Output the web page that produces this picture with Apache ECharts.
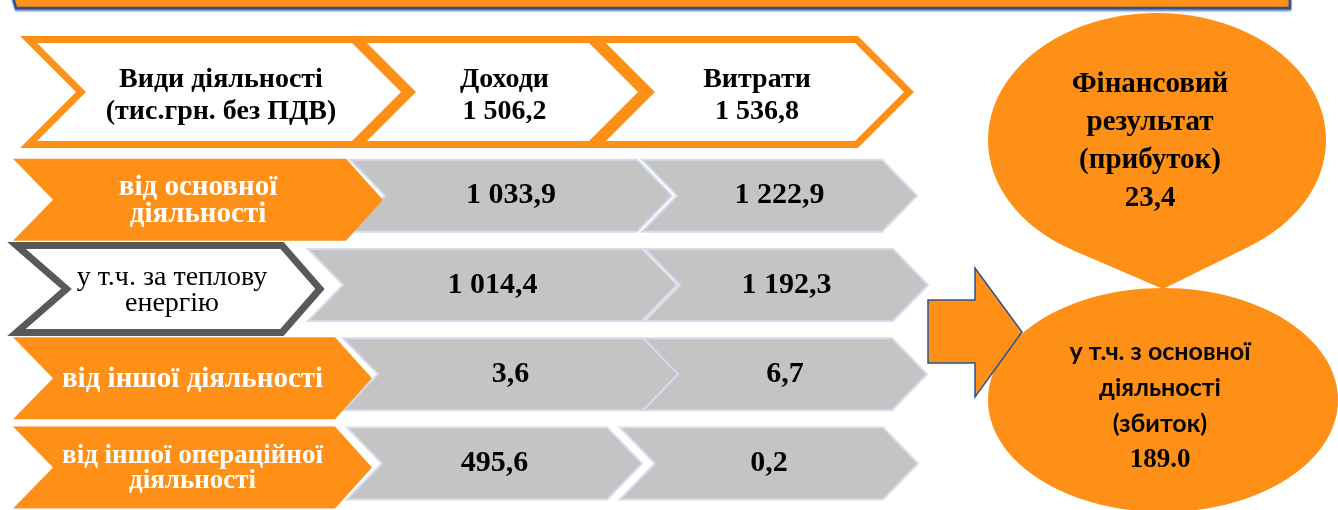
<!DOCTYPE html>
<html>
<head>
<meta charset="utf-8">
<title>Доходи і витрати за видами діяльності</title>
<script src="https://cdn.jsdelivr.net/npm/echarts@6/dist/echarts.min.js"></script>
<style>
  html, body { margin: 0; padding: 0; background: #fff; }
  #chart { width: 1338px; height: 510px; }
</style>
</head>
<body>
<div id="chart"></div>
<script>
// категорії (рядки) і заголовки
const ROWS = ['від основної\nдіяльності', 'у т.ч. за теплову\nенергію', 'від іншої діяльності', 'від іншої операційної\nдіяльності'];
const HEADER = 'Види діяльності\n(тис.грн. без ПДВ)';
const COLUMNS = ['Доходи', 'Витрати'];
// значення, тис.грн.
const INCOME = [1033.9, 1014.4, 3.6, 495.6];
const EXPENSES = [1222.9, 1192.3, 6.7, 0.2];
const TOTALS = [1506.2, 1536.8];
const PROFIT = 23.4;
const CORE_LOSS = 189.0;

// розмітка: межі шевронів по x [лівий край, вістря]
const HEAD_SPAN = [[25, 411], [355, 648], [594, 914]];
const LABEL_SPAN = [[13, 383], [13, 325], [13, 372], [13, 372]];
const INCOME_SPAN = [[350, 672], [308, 677], [343, 678], [347, 642]];
const EXPENSE_SPAN = [[642, 917], [645, 928], [643, 927], [620, 918]];
// розмір шрифту і міжрядковий інтервал підписів
const LABEL_FONT = [29, 28, 29, 27];
const LABEL_LH = [27, 26, 27, 25];

const ORANGE = '#fe9017';
const GRAY = '#c4c4c4';
const SERIF = '"Liberation Serif", "Times New Roman", serif';

function fmt(v) {
  const [i, f] = v.toFixed(1).split('.');
  return i.replace(/\B(?=(\d{3})+(?!\d))/g, ' ') + ',' + f;
}

function chevron(x0, x1, cy, h, d, n) {
  const t = cy - h / 2, b = cy + h / 2;
  return [[x0, t], [x1 - d, t], [x1, cy], [x1 - d, b], [x0, b], [x0 + n, cy]];
}

function text(x, y, str, size, opts) {
  return {
    type: 'text',
    style: Object.assign({
      x: x, y: y, text: str,
      fontFamily: SERIF, fontSize: size, fontWeight: 'bold',
      fill: '#000', align: 'center', verticalAlign: 'middle'
    }, opts || {})
  };
}

// шеврони заголовка
function renderHeader(params, api) {
  const col = api.value(0);
  const cy = api.coord([0, 0])[1];
  const h = api.size([0, 1])[1];
  const [a, b] = HEAD_SPAN[col];
  const x0 = api.coord([a, 0])[0], x1 = api.coord([b, 0])[0];
  const hp = h - 7;
  const label = col === 0 ? HEADER : COLUMNS[col - 1] + '\n' + fmt(api.value(2));
  return {
    type: 'group',
    children: [
      {
        type: 'polygon',
        shape: { points: chevron(x0 + 3.5, x1 - 5, cy, hp, hp / 2, hp / 2) },
        style: { fill: '#fff', stroke: ORANGE, lineWidth: 7, lineJoin: 'miter' }
      },
      text((x0 + x1) / 2 + 3, cy + 4, label, 28, { lineHeight: 32 })
    ]
  };
}

// сірі шеврони зі значеннями
function renderValue(spans) {
  return function (params, api) {
    const row = api.value(1);
    const cy = api.coord([0, row])[1] - 2;
    const [a, b] = spans[row];
    const x0 = api.coord([a, row])[0], x1 = api.coord([b, row])[0];
    return {
      type: 'group',
      children: [
        {
          type: 'polygon',
          shape: { points: chevron(x0, x1, cy, 72, 35, 35) },
          style: { fill: GRAY, stroke: '#d6dcee', lineWidth: 2 }
        },
        text((x0 + x1) / 2, cy, fmt(api.value(2)), 30)
      ]
    };
  };
}

// помаранчеві підписи видів діяльності
function renderLabel(params, api) {
  const row = api.value(1);
  const cy = api.coord([0, row])[1] + 2;
  const [a, b] = LABEL_SPAN[row];
  const x0 = api.coord([a, row])[0], x1 = api.coord([b, row])[0];
  const mid = (x0 + x1) / 2;
  const font = { lineHeight: LABEL_LH[row] };
  if (row === 1) {
    return {
      type: 'group',
      children: [
        {
          type: 'polygon',
          shape: { points: chevron(x0 + 3.5, x1 - 5, cy, 87, 38, 50) },
          style: { fill: '#fff', stroke: '#595959', lineWidth: 7, lineJoin: 'miter' }
        },
        text(mid + 3, cy + 2, ROWS[row], LABEL_FONT[row], Object.assign({ fontWeight: 'normal' }, font))
      ]
    };
  }
  return {
    type: 'group',
    children: [
      {
        type: 'polygon',
        shape: { points: chevron(x0, x1, cy, 82, 37, 40) },
        style: { fill: ORANGE }
      },
      text(mid, cy + 1, ROWS[row], LABEL_FONT[row], Object.assign({ fill: '#fff' }, font))
    ]
  };
}

// краплеподібна фігура: еліпс + дотичні до вістря
const TOP_E = { cx: 1157, cy: 140, rx: 169, ry: 127 };
const TOP_TIP = [1163, 289];
function tangentPoints(e, p) {
  const u = (p[0] - e.cx) / e.rx, v = (p[1] - e.cy) / e.ry;
  const r = Math.sqrt(u * u + v * v);
  const phi = Math.atan2(v, u), alpha = Math.acos(1 / r);
  return [phi - alpha, phi + alpha].map(t => [e.cx + e.rx * Math.cos(t), e.cy + e.ry * Math.sin(t)]);
}
const tp = tangentPoints(TOP_E, TOP_TIP);

const chart = echarts.init(document.getElementById('chart'));
chart.setOption({
  animation: false,
  grid: [
    { left: 0, right: 0, top: 36, height: 112 },
    { left: 0, right: 0, top: 153, height: 360 }
  ],
  xAxis: [
    { gridIndex: 0, type: 'value', min: 0, max: 1338, show: false },
    { gridIndex: 1, type: 'value', min: 0, max: 1338, show: false }
  ],
  yAxis: [
    { gridIndex: 0, type: 'category', data: ['header'], show: false },
    { gridIndex: 1, type: 'category', data: ROWS, inverse: true, show: false }
  ],
  graphic: [
    {
      type: 'polygon',
      shape: { points: [[12, -6], [1290, -6], [1290, 8], [16, 8]] },
      style: { fill: ORANGE, stroke: '#2f528f', lineWidth: 2.5, shadowColor: 'rgba(47,82,143,0.6)', shadowOffsetY: 2, shadowBlur: 2 }
    },
    { type: 'ellipse', shape: TOP_E, style: { fill: ORANGE } },
    { type: 'polygon', shape: { points: [TOP_TIP, tp[0], tp[1]] }, style: { fill: ORANGE } },
    { type: 'ellipse', shape: { cx: 1163, cy: 400, rx: 175, ry: 112 }, style: { fill: ORANGE } },
    {
      type: 'polygon',
      shape: { points: [[928, 300], [975, 300], [975, 268], [1022, 332], [975, 397], [975, 363], [928, 363]] },
      style: { fill: ORANGE, stroke: '#2f528f', lineWidth: 1.5 }
    },
    text(1150, 142, 'Фінансовий\nрезультат\n(прибуток)\n' + fmt(PROFIT), 29, { lineHeight: 38 }),
    text(1160, 388, 'у т.ч. з основної\nдіяльності\n(збиток)', 25, { fontFamily: 'Lato, "Open Sans", sans-serif', lineHeight: 36 }),
    text(1160, 460, CORE_LOSS.toFixed(1), 27)
  ],
  series: [
    {
      name: 'header', type: 'custom', xAxisIndex: 0, yAxisIndex: 0,
      renderItem: renderHeader,
      data: [[0, 0, 0], [1, 0, TOTALS[0]], [2, 0, TOTALS[1]]]
    },
    {
      name: COLUMNS[1], type: 'custom', xAxisIndex: 1, yAxisIndex: 1,
      renderItem: renderValue(EXPENSE_SPAN),
      data: EXPENSES.map((v, i) => [2, i, v])
    },
    {
      name: COLUMNS[0], type: 'custom', xAxisIndex: 1, yAxisIndex: 1,
      renderItem: renderValue(INCOME_SPAN),
      data: INCOME.map((v, i) => [1, i, v])
    },
    {
      name: 'labels', type: 'custom', xAxisIndex: 1, yAxisIndex: 1,
      renderItem: renderLabel,
      data: ROWS.map((r, i) => [0, i, 0])
    }
  ]
});
</script>
</body>
</html>
